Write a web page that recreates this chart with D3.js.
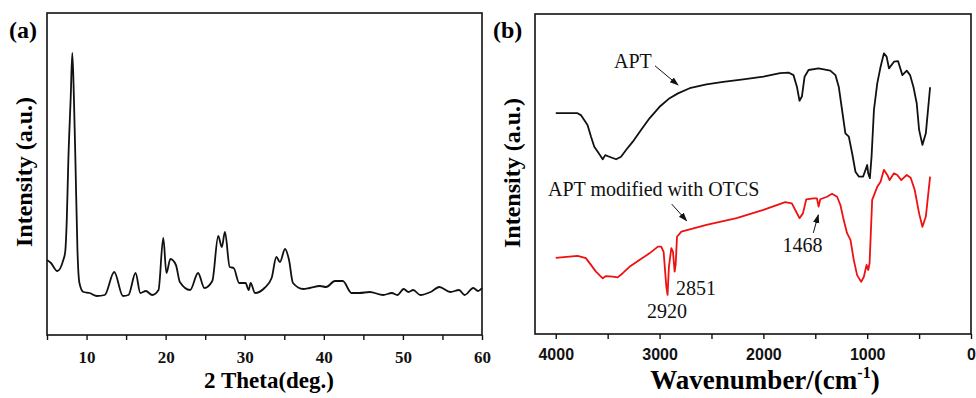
<!DOCTYPE html>
<html>
<head>
<meta charset="utf-8">
<script src="https://cdn.jsdelivr.net/npm/d3@7/dist/d3.min.js"></script>
<style>
  html, body { margin: 0; padding: 0; background: #fff; }
  svg { display: block; }
  .serif { font-family: "Liberation Serif", "Times New Roman", serif; }
  .sans { font-family: "Liberation Sans", Arial, sans-serif; }
</style>
</head>
<body>
<svg id="chart" width="976" height="398"></svg>
<script>
// (a) XRD pattern: 2 theta (deg.) vs intensity (a.u.)
const xrdTheta = [
  5.0, 5.5, 6.3, 7.06, 7.3, 7.5, 7.7, 8.0, 8.2, 8.4, 8.6, 8.85, 9.1, 9.6,
  10.4, 11.3, 12.3, 13.5, 14.6, 15.3, 16.2, 16.8, 17.5, 18.3, 19.1, 19.7,
  20.1, 20.6, 21.3, 21.8, 23.1, 24.1, 24.9, 25.9, 26.65, 27.1, 27.5, 28.1,
  28.6, 29.3, 30.1, 30.5, 30.75, 31.3, 32.5, 33.4, 34.0, 34.45, 35.1, 35.6,
  36.1, 37.4, 38.2, 39.5, 40.3, 41.4, 42.4, 43.5, 44.5, 45.8, 47.5, 48.6,
  49.3, 50.1, 50.7, 51.3, 52.2, 53.5, 54.6, 56.0, 57.1, 57.8, 58.9, 59.5, 60.0,
];
const xrdIntensity = [
  750, 720, 640, 750, 830, 1150, 1750, 2380, 2820, 2380, 1720, 850, 520, 430,
  420, 390, 400, 630, 390, 400, 620, 420, 440, 400, 450, 970,
  620, 760, 700, 530, 450, 620, 470, 540, 990, 880, 1030, 680,
  670, 520, 520, 450, 520, 420, 470, 570, 780, 730, 860, 750,
  520, 460, 470, 490, 480, 540, 540, 420, 420, 430, 400, 420,
  400, 460, 430, 450, 400, 430, 480, 430, 450, 400, 470, 440, 470,
];

// (b) FTIR spectra: wavenumber (cm-1) vs transmittance (a.u.)
const wavenumberApt = [
  4000, 3790, 3758, 3694, 3661, 3629, 3597, 3548, 3523, 3484, 3419, 3371,
  3323, 3258, 3177, 3097, 3000, 2903, 2823, 2710, 2548, 2387, 2194, 2000,
  1839, 1758, 1710, 1677, 1652, 1629, 1603, 1565, 1468, 1355, 1306, 1274,
  1242, 1210, 1177, 1145, 1113, 1081, 1039, 1016, 1000, 990, 974, 958, 935,
  903, 871, 839, 813, 790, 742, 703, 661, 619, 587, 555, 523, 500, 468, 435, 394,
];
const intensityApt = [
  69.0, 69.0, 68.4, 65.3, 61.7, 58.5, 57.0, 54.6, 55.9, 55.4, 54.6, 55.4,
  57.5, 60.1, 63.8, 67.4, 71.0, 73.7, 75.2, 76.8, 78.0, 78.8, 79.6, 80.4,
  81.5, 81.7, 80.9, 77.3, 72.9, 74.2, 80.4, 82.5, 83.0, 82.3, 80.9, 77.3,
  70.0, 62.7, 61.7, 56.5, 50.7, 49.2, 49.2, 51.3, 52.8, 50.2, 48.7, 55.4, 70.0,
  78.3, 83.5, 87.7, 86.7, 83.0, 85.1, 85.3, 80.9, 82.3, 80.9, 77.3, 72.1, 63.8, 59.1, 62.7, 77.1,
];

const wavenumberOtcs = [
  4000, 3790, 3710, 3661, 3613, 3548, 3516, 3452, 3403, 3355, 3290, 3194,
  3097, 3016, 2984, 2961, 2935, 2923, 2910, 2887, 2871, 2855, 2845, 2832,
  2790, 2548, 2258, 2000, 1790, 1726, 1684, 1652, 1619, 1587, 1516, 1484,
  1468, 1452, 1387, 1339, 1290, 1258, 1226, 1194, 1161, 1129, 1097, 1058,
  1032, 1006, 990, 977, 952, 903, 871, 839, 806, 784, 742, 710, 671, 619,
  581, 542, 500, 468, 435, 394,
];
const intensityOtcs = [
  23.8, 24.4, 23.7, 21.6, 19.5, 17.4, 18.1, 17.9, 17.7, 19.0, 21.0, 23.1,
  25.2, 27.3, 27.3, 25.7, 14.8, 12.2, 21.0, 26.8, 25.7, 19.5, 21.6, 30.4,
  32.0, 34.1, 36.2, 38.8, 41.2, 40.8, 38.2, 36.2, 37.7, 42.1, 42.4, 42.4,
  39.8, 42.1, 42.9, 43.8, 42.9, 40.3, 35.6, 31.5, 29.4, 23.1, 18.4, 16.3,
  17.9, 21.6, 20.0, 22.1, 41.9, 46.0, 47.6, 51.3, 49.7, 48.1, 50.2, 49.7, 48.1, 49.7,
  48.8, 45.0, 37.7, 33.5, 36.7, 49.2,
];

// tick values
const thetaTicks = [5, 10, 15, 20, 25, 30, 35, 40, 45, 50, 55, 60];
const wavenumberTicks = [4000, 3500, 3000, 2500, 2000, 1500, 1000, 500, 0];

// annotations in (b): [text, wavenumber, intensity, anchor]
const ftirLabels = [
  ['APT', 3439, 83.1, 'start'],
  ['APT modified with OTCS', 4075, 43.1, 'start'],
  ['1468', 1623, 25.6, 'middle'],
  ['2851', 2842, 12.2, 'start'],
  ['2920', 3121, 5.0, 'start'],
];
// arrows: [fromWavenumber, fromIntensity, toWavenumber, toIntensity]
const ftirArrows = [
  [3044, 83.8, 2822, 77.8],
  [2883, 40.6, 2739, 35.4],
  [1519, 31.6, 1471, 37.2],
];

const svg = d3.select('#chart');

svg
  .append('defs')
  .append('marker')
  .attr('id', 'arrowhead')
  .attr('viewBox', '0 0 10 10')
  .attr('refX', 9)
  .attr('refY', 5)
  .attr('markerWidth', 9)
  .attr('markerHeight', 9)
  .attr('markerUnits', 'userSpaceOnUse')
  .attr('orient', 'auto')
  .append('path')
  .attr('d', 'M0,1.5 L10,5 L0,8.5 Z')
  .attr('fill', '#111');

function drawFrame(g, w, h) {
  g.append('rect')
    .attr('width', w)
    .attr('height', h)
    .attr('fill', 'none')
    .attr('stroke', '#111')
    .attr('stroke-width', 1.6);
}

function styleAxis(axisG, fontClass, fontSize) {
  axisG.select('.domain').remove();
  axisG.selectAll('.tick line').attr('stroke', '#111').attr('stroke-width', 1.4);
  axisG
    .selectAll('.tick text')
    .attr('class', fontClass)
    .attr('fill', '#111')
    .attr('font-size', fontSize)
    .attr('font-weight', 'bold');
}

//
// PANEL (a)
//

const aBox = { left: 47, top: 13, width: 435, height: 322 };

const gA = svg
  .append('g')
  .attr('transform', `translate(${aBox.left},${aBox.top})`);

const xA = d3.scaleLinear().domain([5, 60]).range([0, aBox.width]);
const yA = d3.scaleLinear().domain([0, 3220]).range([aBox.height, 0]);

const xAxisA = gA
  .append('g')
  .attr('transform', `translate(0,${aBox.height})`)
  .call(
    d3
      .axisBottom(xA)
      .tickValues(thetaTicks)
      .tickSize(5)
      .tickPadding(11)
      .tickFormat((d) => (d % 10 === 0 ? d : '')),
  );
styleAxis(xAxisA, 'serif', 17);

const xrdLine = d3
  .line()
  .curve(d3.curveMonotoneX)
  .x((d, i) => xA(xrdTheta[i]))
  .y((d) => yA(d));

gA.append('path')
  .datum(xrdIntensity)
  .attr('fill', 'none')
  .attr('stroke', '#111')
  .attr('stroke-width', 1.8)
  .attr('stroke-linejoin', 'round')
  .attr('d', xrdLine);

drawFrame(gA, aBox.width, aBox.height);

svg.append('text')
  .attr('class', 'serif')
  .attr('x', 9)
  .attr('y', 38)
  .attr('font-size', 24)
  .attr('font-weight', 'bold')
  .text('(a)');

svg.append('text')
  .attr('class', 'serif')
  .attr('x', 269)
  .attr('y', 388)
  .attr('text-anchor', 'middle')
  .attr('font-size', 23)
  .attr('font-weight', 'bold')
  .text('2 Theta(deg.)');

svg.append('text')
  .attr('class', 'serif')
  .attr('transform', 'translate(32,172) rotate(-90)')
  .attr('text-anchor', 'middle')
  .attr('font-size', 24)
  .attr('font-weight', 'bold')
  .text('Intensity (a.u.)');

//
// PANEL (b)
//

const bBox = { left: 535, top: 14, width: 436, height: 320 };

const gB = svg
  .append('g')
  .attr('transform', `translate(${bBox.left},${bBox.top})`);

const xB = d3.scaleLinear().domain([4200, 0]).range([0, bBox.width]);
const yB = d3.scaleLinear().domain([0, 100]).range([bBox.height, 0]);

const xAxisB = gB
  .append('g')
  .attr('transform', `translate(0,${bBox.height})`)
  .call(
    d3
      .axisBottom(xB)
      .tickValues(wavenumberTicks)
      .tickSize(5)
      .tickPadding(10)
      .tickFormat((d) => (d % 1000 === 0 ? d : '')),
  );
styleAxis(xAxisB, 'sans', 16);

const aptLine = d3
  .line()
  .x((d, i) => xB(wavenumberApt[i]))
  .y((d) => yB(d));

const otcsLine = d3
  .line()
  .x((d, i) => xB(wavenumberOtcs[i]))
  .y((d) => yB(d));

gB.append('path')
  .datum(intensityApt)
  .attr('fill', 'none')
  .attr('stroke', '#111')
  .attr('stroke-width', 1.8)
  .attr('stroke-linejoin', 'round')
  .attr('d', aptLine);

gB.append('path')
  .datum(intensityOtcs)
  .attr('fill', 'none')
  .attr('stroke', '#ee1111')
  .attr('stroke-width', 1.8)
  .attr('stroke-linejoin', 'round')
  .attr('d', otcsLine);

gB.selectAll('.ftir-label')
  .data(ftirLabels)
  .join('text')
  .attr('class', 'ftir-label serif')
  .attr('x', (d) => xB(d[1]))
  .attr('y', (d) => yB(d[2]))
  .attr('text-anchor', (d) => d[3])
  .attr('font-size', 20)
  .attr('fill', '#111')
  .text((d) => d[0]);

gB.selectAll('.ftir-arrow')
  .data(ftirArrows)
  .join('line')
  .attr('class', 'ftir-arrow')
  .attr('x1', (d) => xB(d[0]))
  .attr('y1', (d) => yB(d[1]))
  .attr('x2', (d) => xB(d[2]))
  .attr('y2', (d) => yB(d[3]))
  .attr('stroke', '#111')
  .attr('stroke-width', 1)
  .attr('marker-end', 'url(#arrowhead)');

drawFrame(gB, bBox.width, bBox.height);

svg.append('text')
  .attr('class', 'serif')
  .attr('x', 493)
  .attr('y', 38)
  .attr('font-size', 24)
  .attr('font-weight', 'bold')
  .text('(b)');

svg.append('text')
  .attr('class', 'serif')
  .attr('transform', 'translate(520,173) rotate(-90)')
  .attr('text-anchor', 'middle')
  .attr('font-size', 24)
  .attr('font-weight', 'bold')
  .text('Intensity (a.u.)');

const wnTitle = svg
  .append('text')
  .attr('class', 'serif')
  .attr('x', 765)
  .attr('y', 389)
  .attr('text-anchor', 'middle')
  .attr('font-size', 27)
  .attr('font-weight', 'bold');
wnTitle.append('tspan').text('Wavenumber/(cm');
wnTitle.append('tspan').attr('font-size', 16).attr('dy', -11).text('-1');
wnTitle.append('tspan').attr('dy', 11).text(')');
</script>
</body>
</html>
